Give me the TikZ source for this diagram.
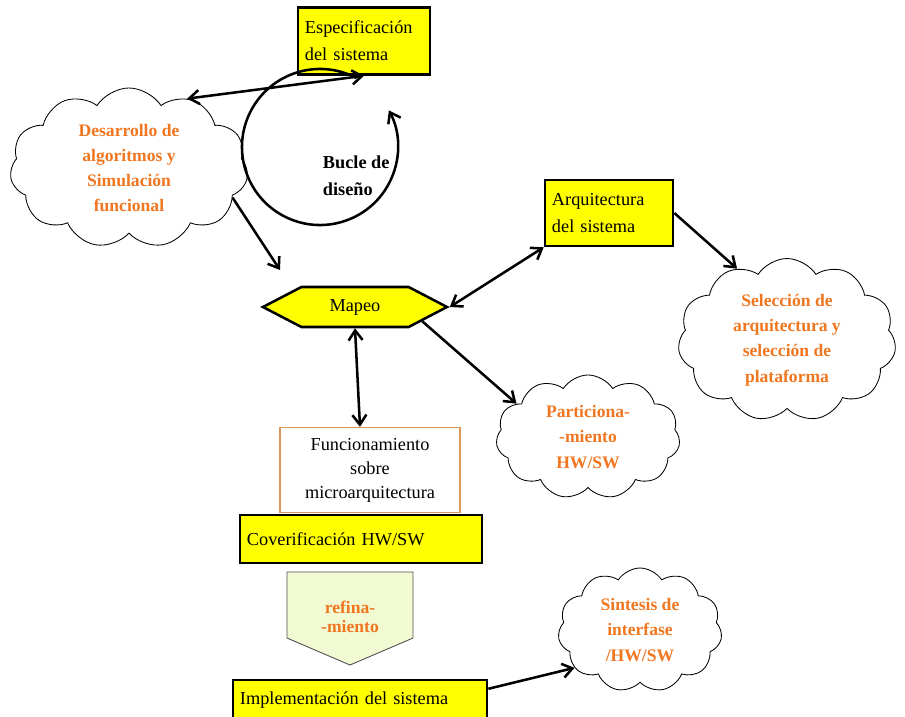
\documentclass[tikz,border=0pt]{standalone}
\usepackage{fontspec}
\setmainfont{Liberation Serif}
\usetikzlibrary{shapes,calc,arrows.meta}
\definecolor{stepyellow}{RGB}{255,255,0}
\definecolor{cloudtext}{RGB}{240,118,32}
\definecolor{refinefill}{RGB}{242,250,212}
\definecolor{microborder}{RGB}{222,150,90}

\begin{document}
\begin{tikzpicture}[
    x=0.025cm, y=-0.025cm,
    >={Straight Barb[length=7pt,width=10pt]},
    box/.style = {rectangle, draw, line width=1.8pt, fill=stepyellow, align=left, inner sep=5pt, font=\fontsize{13}{19}\selectfont},
    idea/.style = {cloud, cloud puffs=11, cloud puff arc=115, cloud ignores aspect, draw, line width=0.6pt, align=center, text=cloudtext, font=\bfseries\fontsize{12.5}{18}\selectfont},
    micro/.style = {rectangle, draw=microborder, line width=0.9pt, fill=white, align=center, font=\fontsize{13}{17}\selectfont},
    hexa/.style = {signal, signal to=west and east, signal pointer angle=55, draw, line width=1.8pt, fill=stepyellow, font=\fontsize{13}{19}\selectfont},
    refine/.style = {align=center, text=cloudtext, font=\bfseries\fontsize{12.5}{14}\selectfont},
    refineshape/.style = {draw=black!70, line width=0.6pt, fill=refinefill},
    transition/.style = {->, line width=1.8pt},
    twoway/.style = {<->, line width=1.8pt}
    ]
    \useasboundingbox (0,0) rectangle (905,716);

    \node[box, text width=2.95cm, minimum height=1.675cm] (espec) at (364,41) {Especificación\\del sistema};
    \node[idea, minimum width=5.95cm, minimum height=4cm] (desarrollo) at (129,168) {Desarrollo de\\algoritmos y\\Simulación\\funcional};
    \coordinate (loop) at (320,147);
    \node[anchor=west, align=left, font=\bfseries\fontsize{13}{19}\selectfont] (bucle) at (318,176) {Bucle de\\diseño};
    \coordinate (maparrow) at (280,270);
    \node[hexa, minimum width=4.6cm, minimum height=1cm] (mapeo) at (355,307) {Mapeo};
    \node[box, text width=2.85cm, minimum height=1.65cm] (arquit) at (609,213) {Arquitectura\\del sistema};
    \node[idea, minimum width=5.45cm, minimum height=4cm] (seleccion) at (787,340) {Selección de\\arquitectura y\\selección de\\plataforma};
    \node[idea, minimum width=4.6cm, minimum height=3.1cm] (particion) at (588,437) {Particiona-\\-miento\\HW/SW};
    \node[micro, minimum width=4.5cm, minimum height=2.125cm] (funcion) at (370,470) {Funcionamiento\\sobre\\microarquitectura};
    \node[box, text width=5.7cm, minimum height=1.2cm] (cover) at (361,539) {Coverificación HW/SW};
    \path[refineshape] (287,572) -- (413,572) -- (413,638) -- (350,665) -- (287,638) -- cycle;
    \node[refine] (refina) at (350,617) {refina-\\-miento};
    \node[box, text width=6.0cm, minimum height=1cm] (impl) at (360,700) {Implementación del sistema};
    \node[idea, minimum width=4.1cm, minimum height=3.1cm] (sintesis) at (640,630) {Sintesis de\\interfase\\/HW/SW};

    \draw[transition] ($(loop)+(62:1.95cm)$) arc[start angle=62, end angle=388, radius=1.95cm];
    \draw[twoway] (desarrollo.50) -- (espec.south);
    \draw[transition] (desarrollo.-16) -- (maparrow);
    \draw[twoway] (mapeo.east) -- (arquit.south west);
    \draw[transition] (arquit.east) -- (seleccion.125);
    \draw[transition] (mapeo.-12) -- (particion.155);
    \draw[twoway] (mapeo.south) -- ([xshift=-0.25cm]funcion.north);
    \draw[transition] ([yshift=0.28cm]impl.east) -- (sintesis.210);
\end{tikzpicture}
\end{document}
